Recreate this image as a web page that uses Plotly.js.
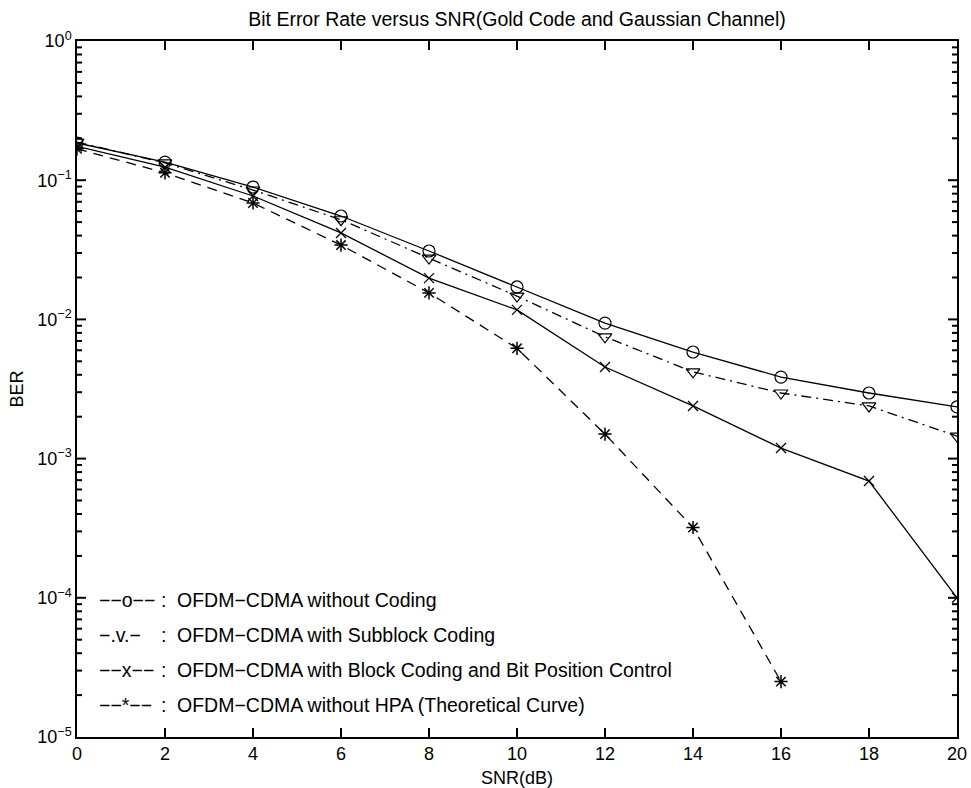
<!DOCTYPE html>
<html>
<head>
<meta charset="utf-8">
<script src="https://cdn.plot.ly/plotly-3.0.1.min.js"></script>
<style>
html,body{margin:0;padding:0;background:#fff;}
#chart{width:971px;height:788px;}
</style>
</head>
<body>
<div id="chart"></div>
<script>
// ---- data ----
const snr = [0, 2, 4, 6, 8, 10, 12, 14, 16, 18, 20];
const berNoCoding = [0.185, 0.135, 0.0893, 0.0553, 0.031, 0.0171, 0.0094, 0.00583, 0.00385, 0.00296, 0.00235];
const berSubblock = [0.188, 0.133, 0.085, 0.052, 0.0276, 0.0147, 0.0075, 0.0042, 0.00296, 0.00239, 0.00145];
const berBlockBPC = [0.175, 0.124, 0.077, 0.0418, 0.0198, 0.0117, 0.00455, 0.00239, 0.00119, 0.00069, 0.0001];
const snrTheory = [0, 2, 4, 6, 8, 10, 12, 14, 16];
const berTheory = [0.168, 0.113, 0.0686, 0.0342, 0.0155, 0.0062, 0.0015, 0.00032, 0.000025];

const xTicks = [0, 2, 4, 6, 8, 10, 12, 14, 16, 18, 20];
const yTickVals = [1, 0.1, 0.01, 0.001, 0.0001, 0.00001];
const yTickText = ['10<sup>0</sup>', '10<sup>−1</sup>', '10<sup>−2</sup>', '10<sup>−3</sup>', '10<sup>−4</sup>', '10<sup>−5</sup>'];
const yMinorMantissas = [2, 3, 4, 5, 6, 7, 8, 9];

const legendKeys = ['−−o−−', '−.v.−', '−−x−−', '−−*−−'];
const legendLabels = [
  'OFDM−CDMA without Coding',
  'OFDM−CDMA with Subblock Coding',
  'OFDM−CDMA with Block Coding and Bit Position Control',
  'OFDM−CDMA without HPA (Theoretical Curve)'
];

const titleText = 'Bit Error Rate versus SNR(Gold Code and Gaussian Channel)';
const xTitle = 'SNR(dB)';
const yTitle = 'BER';

const X_RANGE = [0, 20];
const Y_LOG_RANGE = [-5, 0];

// minor tick positions (2..9 in each decade)
const minorVals = [];
yTickVals.slice(1).forEach(d => yMinorMantissas.forEach(m => minorVals.push(m * d)));

const FONT = 'Liberation Sans, Arial, Helvetica, sans-serif';
const lw = 1.3;

const traces = [
  {x: snr, y: berNoCoding, mode: 'lines+markers',
   line: {color: '#000', width: lw, dash: 'solid'},
   marker: {symbol: 'circle-open', size: 12, color: '#000', line: {width: 1.2, color: '#000'}}},
  {x: snr, y: berSubblock, mode: 'lines+markers',
   line: {color: '#000', width: lw, dash: '10px,5px,2px,5px'},
   marker: {symbol: 'triangle-down-open', size: 12, color: '#000', line: {width: 1.2, color: '#000'}}},
  {x: snr, y: berBlockBPC, mode: 'lines+markers',
   line: {color: '#000', width: lw, dash: 'solid'},
   marker: {symbol: 'x-thin-open', size: 10, color: '#000', line: {width: 1.3, color: '#000'}}},
  {x: snrTheory, y: berTheory, mode: 'lines+markers',
   line: {color: '#000', width: lw, dash: '10px,7px'},
   marker: {symbol: 'asterisk-open', size: 11, color: '#000', line: {width: 1.5, color: '#000'}}}
];

const L = 77, R = 14, T = 41, B = 51;
const W = 971, H = 788;
const pw = W - L - R, ph = H - T - B;
const px2x = p => (p - L) / pw;
const py2y = p => (H - B - p) / ph;

// legend as text annotations inside the plot
const rowY = [600, 635, 670, 705];
const annotations = [];
const lf = {family: FONT, size: 19.5, color: '#000'};
legendKeys.forEach((k, i) => {
  annotations.push({xref: 'paper', yref: 'paper', x: px2x(97), y: py2y(rowY[i]),
    xanchor: 'left', yanchor: 'middle', text: k, showarrow: false, font: lf});
  annotations.push({xref: 'paper', yref: 'paper', x: px2x(159), y: py2y(rowY[i]),
    xanchor: 'left', yanchor: 'middle', text: ':', showarrow: false, font: lf});
  annotations.push({xref: 'paper', yref: 'paper', x: px2x(175), y: py2y(rowY[i]),
    xanchor: 'left', yanchor: 'middle', text: legendLabels[i], showarrow: false, font: lf});
});

// inward tick marks on all four sides (MATLAB style)
const tickLine = {color: '#000', width: 2};
const shapes = [];
const yPaper = v => (Math.log10(v) - Y_LOG_RANGE[0]) / (Y_LOG_RANGE[1] - Y_LOG_RANGE[0]);
xTicks.filter(v => v > X_RANGE[0] && v < X_RANGE[1]).forEach(v => {
  shapes.push({type: 'line', xref: 'x', yref: 'paper', ysizemode: 'pixel', yanchor: 0,
    x0: v, x1: v, y0: 0, y1: 9, line: tickLine});
  shapes.push({type: 'line', xref: 'x', yref: 'paper', ysizemode: 'pixel', yanchor: 1,
    x0: v, x1: v, y0: 0, y1: -9, line: tickLine});
});
const addYTick = (v, len) => {
  const yp = yPaper(v);
  shapes.push({type: 'line', xref: 'paper', yref: 'paper', xsizemode: 'pixel', xanchor: 0,
    x0: 0, x1: len, y0: yp, y1: yp, line: tickLine});
  shapes.push({type: 'line', xref: 'paper', yref: 'paper', xsizemode: 'pixel', xanchor: 1,
    x0: 0, x1: -len, y0: yp, y1: yp, line: tickLine});
};
yTickVals.slice(1, -1).forEach(v => addYTick(v, 9));
minorVals.forEach(v => addYTick(v, 5));

const layout = {
  width: W, height: H,
  margin: {l: L, r: R, t: T, b: B},
  paper_bgcolor: '#fff', plot_bgcolor: '#fff',
  showlegend: false,
  font: {family: FONT, color: '#000', size: 18},
  title: {text: titleText, font: {family: FONT, size: 19.5, color: '#000'},
          x: (L + pw / 2) / W, xanchor: 'center', y: 1 - 19 / H, yanchor: 'middle'},
  xaxis: {
    range: X_RANGE, tickmode: 'array', tickvals: xTicks,
    ticks: '', showline: true, linecolor: '#000', linewidth: 1.5, mirror: true,
    showgrid: false, zeroline: false,
    tickfont: {family: FONT, size: 18, color: '#000'},
    title: {text: xTitle, font: {family: FONT, size: 18, color: '#000'}, standoff: 9}
  },
  yaxis: {
    type: 'log', range: Y_LOG_RANGE, tickmode: 'array', tickvals: yTickVals, ticktext: yTickText,
    ticks: '', showline: true, linecolor: '#000', linewidth: 1.5, mirror: true,
    showgrid: false, zeroline: false,
    tickfont: {family: FONT, size: 18, color: '#000'},
    title: {text: yTitle, font: {family: FONT, size: 18, color: '#000'}, standoff: 9}
  },
  shapes: shapes,
  annotations: annotations
};

Plotly.newPlot('chart', traces, layout, {displayModeBar: false});
</script>
</body>
</html>
